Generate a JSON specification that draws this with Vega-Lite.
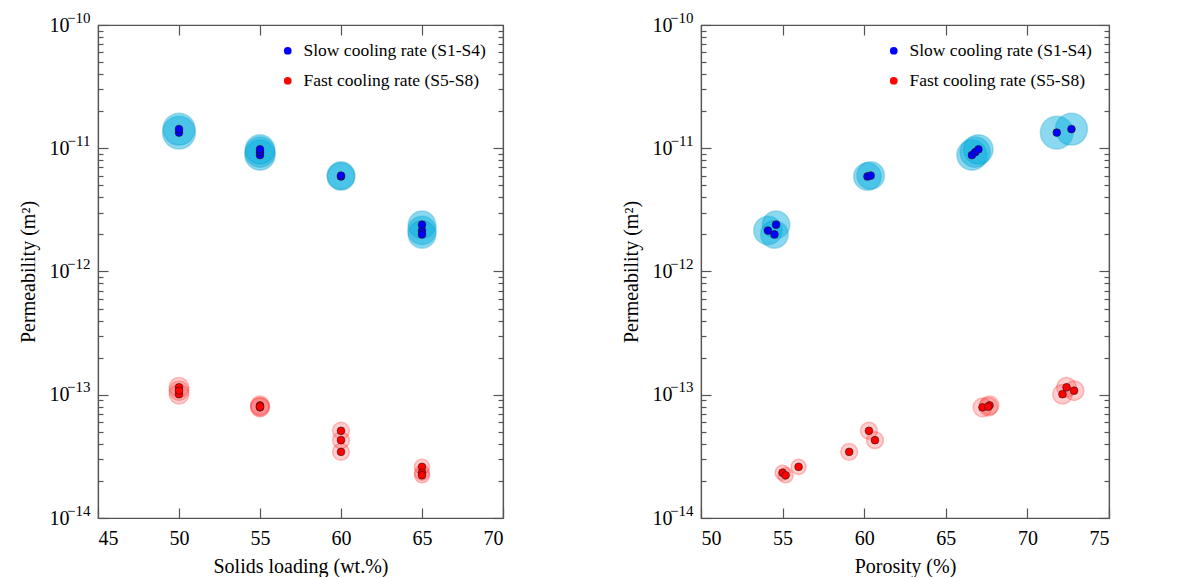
{
  "$schema": "https://vega.github.io/schema/vega-lite/v6.json",
  "padding": {"left": 17, "top": 9, "right": 5, "bottom": 0},
  "spacing": 115,
  "background": "white",
  "config": {
    "font": "Liberation Serif",
    "view": {"stroke": "#555", "strokeWidth": 1.2},
    "axis": {
      "labelFont": "Liberation Serif", "labelFontSize": 20, "labelColor": "#000",
      "titleFont": "Liberation Serif", "titleFontSize": 20, "titleFontWeight": "normal", "titleColor": "#000",
      "domainColor": "#555", "domainWidth": 1.2, "tickColor": "#555", "tickWidth": 1.2, "grid": false
    },
    "legend": {"labelFont": "Liberation Serif", "labelFontSize": 17.5, "labelColor": "#000", "labelLimit": 400}
  },
  "datasets": {
    "pts": [
      {"g": "Slow cooling rate (S1-S4)", "solids": 50, "porosity": 71.8, "perm": 1.34e-11, "dev": 37},
      {"g": "Slow cooling rate (S1-S4)", "solids": 50, "porosity": 72.7, "perm": 1.43e-11, "dev": 36},
      {"g": "Slow cooling rate (S1-S4)", "solids": 55, "porosity": 66.6, "perm": 8.8e-12, "dev": 34},
      {"g": "Slow cooling rate (S1-S4)", "solids": 55, "porosity": 66.8, "perm": 9.3e-12, "dev": 34},
      {"g": "Slow cooling rate (S1-S4)", "solids": 55, "porosity": 67.0, "perm": 9.8e-12, "dev": 33},
      {"g": "Slow cooling rate (S1-S4)", "solids": 60, "porosity": 60.2, "perm": 5.9e-12, "dev": 31},
      {"g": "Slow cooling rate (S1-S4)", "solids": 60, "porosity": 60.4, "perm": 6.0e-12, "dev": 31},
      {"g": "Slow cooling rate (S1-S4)", "solids": 65, "porosity": 54.1, "perm": 2.15e-12, "dev": 32},
      {"g": "Slow cooling rate (S1-S4)", "solids": 65, "porosity": 54.6, "perm": 2.4e-12, "dev": 31},
      {"g": "Slow cooling rate (S1-S4)", "solids": 65, "porosity": 54.5, "perm": 2.0e-12, "dev": 31},
      {"g": "Fast cooling rate (S5-S8)", "solids": 50, "porosity": 72.15, "perm": 1.01e-13, "dev": 22},
      {"g": "Fast cooling rate (S5-S8)", "solids": 50, "porosity": 72.4, "perm": 1.15e-13, "dev": 22},
      {"g": "Fast cooling rate (S5-S8)", "solids": 50, "porosity": 72.86, "perm": 1.08e-13, "dev": 22},
      {"g": "Fast cooling rate (S5-S8)", "solids": 55, "porosity": 67.25, "perm": 7.9e-14, "dev": 21},
      {"g": "Fast cooling rate (S5-S8)", "solids": 55, "porosity": 67.68, "perm": 8.2e-14, "dev": 21},
      {"g": "Fast cooling rate (S5-S8)", "solids": 55, "porosity": 67.6, "perm": 8.0e-14, "dev": 21},
      {"g": "Fast cooling rate (S5-S8)", "solids": 60, "porosity": 60.29, "perm": 5.1e-14, "dev": 19},
      {"g": "Fast cooling rate (S5-S8)", "solids": 60, "porosity": 60.66, "perm": 4.28e-14, "dev": 19},
      {"g": "Fast cooling rate (S5-S8)", "solids": 60, "porosity": 59.08, "perm": 3.44e-14, "dev": 19},
      {"g": "Fast cooling rate (S5-S8)", "solids": 65, "porosity": 55.98, "perm": 2.6e-14, "dev": 17},
      {"g": "Fast cooling rate (S5-S8)", "solids": 65, "porosity": 55.0, "perm": 2.33e-14, "dev": 17},
      {"g": "Fast cooling rate (S5-S8)", "solids": 65, "porosity": 55.18, "perm": 2.22e-14, "dev": 17}
    ]
  },
  "data": {"name": "pts"},
  "resolve": {"scale": {"color": "independent"}, "legend": {"color": "independent"}},
  "hconcat": [
    {
      "width": 405, "height": 493,
      "resolve": {"axis": {"x": "independent", "y": "independent"}},
      "layer": [
        {
          "mark": {"type": "circle", "strokeWidth": 1.5, "strokeOpacity": 0.45},
          "encoding": {
            "x": {"field": "solids", "type": "quantitative",
                  "scale": {"domain": [45, 70], "nice": false, "zero": false},
                  "axis": {"orient": "bottom", "values": [45, 50, 55, 60, 65, 70], "tickSize": -10, "labelPadding": 20, "title": "Solids loading (wt.%)", "titlePadding": 8}},
            "y": {"field": "perm", "type": "quantitative",
                  "scale": {"type": "log", "domain": [1e-14, 1e-10], "nice": false},
                  "axis": {"orient": "left",
                           "values": [1e-14, 2e-14, 3e-14, 4e-14, 5e-14, 6e-14, 7e-14, 8e-14, 9e-14, 1e-13, 2e-13, 3e-13, 4e-13, 5e-13, 6e-13, 7e-13, 8e-13, 9e-13, 1e-12, 2e-12, 3e-12, 4e-12, 5e-12, 6e-12, 7e-12, 8e-12, 9e-12, 1e-11, 2e-11, 3e-11, 4e-11, 5e-11, 6e-11, 7e-11, 8e-11, 9e-11, 1e-10],
                           "tickSize": {"condition": {"test": "abs(log(datum.value)/LN10 - round(log(datum.value)/LN10)) < 0.01", "value": -10}, "value": -5},
                           "labelPadding": 39, "labelBaseline": "middle",
                           "labelExpr": "abs(log(datum.value)/LN10 - round(log(datum.value)/LN10)) > 0.01 ? '' : '10'",
                           "title": "Permeability (m²)", "titlePadding": 11}},
            "size": {"field": "dev", "type": "quantitative", "scale": {"type": "pow", "exponent": 2, "domain": [0, 40], "range": [0, 1257]}, "legend": null},
            "fill": {"field": "g", "type": "nominal", "scale": {"domain": ["Slow cooling rate (S1-S4)", "Fast cooling rate (S5-S8)"], "range": ["#00addf", "#ff3030"]}, "legend": null},
            "stroke": {"field": "g", "type": "nominal", "scale": {"domain": ["Slow cooling rate (S1-S4)", "Fast cooling rate (S5-S8)"], "range": ["#0098c8", "#ff3030"]}, "legend": null},
            "fillOpacity": {"field": "g", "type": "nominal", "scale": {"domain": ["Slow cooling rate (S1-S4)", "Fast cooling rate (S5-S8)"], "range": [0.65, 0.33]}, "legend": null}
          }
        },
        {
          "mark": {"type": "circle", "size": 60, "opacity": 1, "stroke": "#301010", "strokeWidth": 0.6},
          "encoding": {
            "x": {"field": "solids", "type": "quantitative",
                  "axis": {"orient": "top", "values": [50, 55, 60, 65], "tickSize": -10, "labels": false, "title": null}},
            "y": {"field": "perm", "type": "quantitative",
                  "axis": {"orient": "right",
                           "values": [1e-14, 2e-14, 3e-14, 4e-14, 5e-14, 6e-14, 7e-14, 8e-14, 9e-14, 1e-13, 2e-13, 3e-13, 4e-13, 5e-13, 6e-13, 7e-13, 8e-13, 9e-13, 1e-12, 2e-12, 3e-12, 4e-12, 5e-12, 6e-12, 7e-12, 8e-12, 9e-12, 1e-11, 2e-11, 3e-11, 4e-11, 5e-11, 6e-11, 7e-11, 8e-11, 9e-11, 1e-10],
                           "tickSize": {"condition": {"test": "abs(log(datum.value)/LN10 - round(log(datum.value)/LN10)) < 0.01", "value": -10}, "value": -5},
                           "labels": false, "title": null}},
            "color": {"field": "g", "type": "nominal",
                      "scale": {"domain": ["Slow cooling rate (S1-S4)", "Fast cooling rate (S5-S8)"], "range": ["#0000ff", "#ff0000"]},
                      "legend": {"title": null, "orient": "top-right", "offset": 17, "padding": 0, "rowPadding": 11, "symbolType": "circle", "symbolSize": 60, "symbolStrokeWidth": 0, "labelOffset": 7}}
          }
        },
        {
          "mark": {"type": "circle", "size": 1, "opacity": 0},
          "encoding": {
            "x": {"field": "solids", "type": "quantitative", "axis": null},
            "y": {"field": "perm", "type": "quantitative",
                  "axis": {"orient": "left", "values": [1e-14, 1e-13, 1e-12, 1e-11, 1e-10], "ticks": false, "domain": false, "title": null,
                           "labelFontSize": 15, "labelPadding": 8, "labelOffset": -8, "labelBaseline": "middle",
                           "labelExpr": "'−' + format(-round(log(datum.value)/LN10), 'd')"}}
          }
        }
      ]
    },
    {
      "width": 408, "height": 493,
      "resolve": {"axis": {"x": "independent", "y": "independent"}},
      "layer": [
        {
          "mark": {"type": "circle", "strokeWidth": 1.5, "strokeOpacity": 0.45},
          "encoding": {
            "x": {"field": "porosity", "type": "quantitative",
                  "scale": {"domain": [50, 75], "nice": false, "zero": false},
                  "axis": {"orient": "bottom", "values": [50, 55, 60, 65, 70, 75], "tickSize": -10, "labelPadding": 20, "title": "Porosity (%)", "titlePadding": 8}},
            "y": {"field": "perm", "type": "quantitative",
                  "scale": {"type": "log", "domain": [1e-14, 1e-10], "nice": false},
                  "axis": {"orient": "left",
                           "values": [1e-14, 2e-14, 3e-14, 4e-14, 5e-14, 6e-14, 7e-14, 8e-14, 9e-14, 1e-13, 2e-13, 3e-13, 4e-13, 5e-13, 6e-13, 7e-13, 8e-13, 9e-13, 1e-12, 2e-12, 3e-12, 4e-12, 5e-12, 6e-12, 7e-12, 8e-12, 9e-12, 1e-11, 2e-11, 3e-11, 4e-11, 5e-11, 6e-11, 7e-11, 8e-11, 9e-11, 1e-10],
                           "tickSize": {"condition": {"test": "abs(log(datum.value)/LN10 - round(log(datum.value)/LN10)) < 0.01", "value": -10}, "value": -5},
                           "labelPadding": 39, "labelBaseline": "middle",
                           "labelExpr": "abs(log(datum.value)/LN10 - round(log(datum.value)/LN10)) > 0.01 ? '' : '10'",
                           "title": "Permeability (m²)", "titlePadding": 11}},
            "size": {"field": "dev", "type": "quantitative", "scale": {"type": "pow", "exponent": 2, "domain": [0, 40], "range": [0, 1257]}, "legend": null},
            "fill": {"field": "g", "type": "nominal", "scale": {"domain": ["Slow cooling rate (S1-S4)", "Fast cooling rate (S5-S8)"], "range": ["#00addf", "#ff3030"]}, "legend": null},
            "stroke": {"field": "g", "type": "nominal", "scale": {"domain": ["Slow cooling rate (S1-S4)", "Fast cooling rate (S5-S8)"], "range": ["#0098c8", "#ff3030"]}, "legend": null},
            "fillOpacity": {"field": "g", "type": "nominal", "scale": {"domain": ["Slow cooling rate (S1-S4)", "Fast cooling rate (S5-S8)"], "range": [0.65, 0.33]}, "legend": null}
          }
        },
        {
          "mark": {"type": "circle", "size": 60, "opacity": 1, "stroke": "#301010", "strokeWidth": 0.6},
          "encoding": {
            "x": {"field": "porosity", "type": "quantitative",
                  "axis": {"orient": "top", "values": [55, 60, 65, 70], "tickSize": -10, "labels": false, "title": null}},
            "y": {"field": "perm", "type": "quantitative",
                  "axis": {"orient": "right",
                           "values": [1e-14, 2e-14, 3e-14, 4e-14, 5e-14, 6e-14, 7e-14, 8e-14, 9e-14, 1e-13, 2e-13, 3e-13, 4e-13, 5e-13, 6e-13, 7e-13, 8e-13, 9e-13, 1e-12, 2e-12, 3e-12, 4e-12, 5e-12, 6e-12, 7e-12, 8e-12, 9e-12, 1e-11, 2e-11, 3e-11, 4e-11, 5e-11, 6e-11, 7e-11, 8e-11, 9e-11, 1e-10],
                           "tickSize": {"condition": {"test": "abs(log(datum.value)/LN10 - round(log(datum.value)/LN10)) < 0.01", "value": -10}, "value": -5},
                           "labels": false, "title": null}},
            "color": {"field": "g", "type": "nominal",
                      "scale": {"domain": ["Slow cooling rate (S1-S4)", "Fast cooling rate (S5-S8)"], "range": ["#0000ff", "#ff0000"]},
                      "legend": {"title": null, "orient": "top-right", "offset": 17, "padding": 0, "rowPadding": 11, "symbolType": "circle", "symbolSize": 60, "symbolStrokeWidth": 0, "labelOffset": 7}}
          }
        },
        {
          "mark": {"type": "circle", "size": 1, "opacity": 0},
          "encoding": {
            "x": {"field": "porosity", "type": "quantitative", "axis": null},
            "y": {"field": "perm", "type": "quantitative",
                  "axis": {"orient": "left", "values": [1e-14, 1e-13, 1e-12, 1e-11, 1e-10], "ticks": false, "domain": false, "title": null,
                           "labelFontSize": 15, "labelPadding": 8, "labelOffset": -8, "labelBaseline": "middle",
                           "labelExpr": "'−' + format(-round(log(datum.value)/LN10), 'd')"}}
          }
        }
      ]
    }
  ]
}
